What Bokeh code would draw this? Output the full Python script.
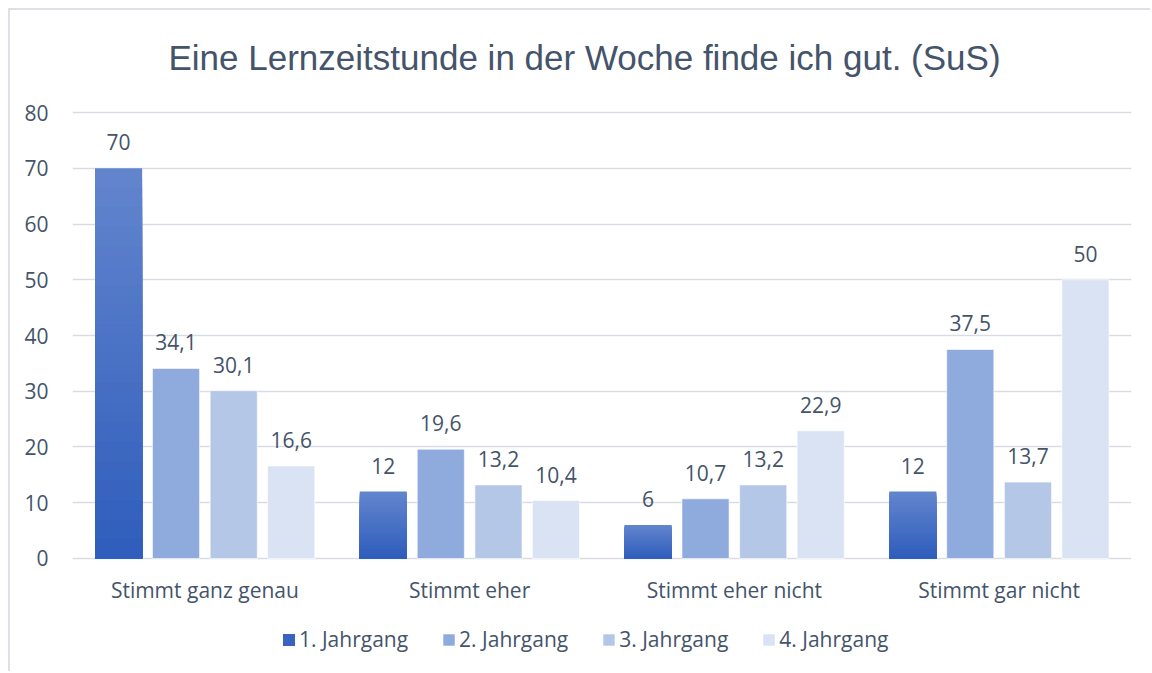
from bokeh.plotting import figure
from bokeh.models import ColumnDataSource, FactorRange, Legend, LegendItem, Label, FixedTicker, Range1d
from bokeh.transform import dodge
from bokeh.core.properties import value
from bokeh.embed import file_html
from bokeh.resources import INLINE

# ---- data ----
categories = ["Stimmt ganz genau", "Stimmt eher", "Stimmt eher nicht", "Stimmt gar nicht"]
series_names = ["1. Jahrgang", "2. Jahrgang", "3. Jahrgang", "4. Jahrgang"]
jahrgang_1 = [70, 12, 6, 12]
jahrgang_2 = [34.1, 19.6, 10.7, 37.5]
jahrgang_3 = [30.1, 13.2, 13.2, 13.7]
jahrgang_4 = [16.6, 10.4, 22.9, 50]
y_ticks = [0, 10, 20, 30, 40, 50, 60, 70, 80]
title_text = "Eine Lernzeitstunde in der Woche finde ich gut. (SuS)"

series_values = [jahrgang_1, jahrgang_2, jahrgang_3, jahrgang_4]
colors = ["#3a66c0", "#8faadc", "#b4c7e7", "#dae3f3"]
grad_bottom = (0x2e, 0x5d, 0xbc)
grad_top = (0x63, 0x85, 0xcd)
text_color = "#44546a"
grid_color = "#d9dde3"
font = "Open Sans"

offsets = [-0.326, -0.109, 0.109, 0.326]
bar_w = 0.178


def fmt(v):
    s = ("%.1f" % v).rstrip("0").rstrip(".")
    return s.replace(".", ",")


p = figure(width=1142, height=663, x_range=FactorRange(*categories, range_padding=0),
           y_range=Range1d(-20.63, 98.3), output_backend="svg", toolbar_location=None,
           min_border_left=62, min_border_right=21, min_border_top=0, min_border_bottom=0)
p.outline_line_color = None
p.styles = {"margin-left": "8px", "margin-top": "8px",
            "border-left": "2px solid #dde1e6", "border-top": "2px solid #dde1e6"}

# gradient bars for series 1: overlapping layers, light & tall first, darker & shorter on top
N = 40
g = dict(cat=[], top=[], color=[])
for c, v in zip(categories, jahrgang_1):
    for i in range(N):
        frac = (N - i) / N
        t = frac - 0.5 / N
        rgb = tuple(int(round(b + (tp - b) * t)) for b, tp in zip(grad_bottom, grad_top))
        g["cat"].append(c)
        g["top"].append(v * frac)
        g["color"].append("#%02x%02x%02x" % rgb)
gsrc = ColumnDataSource(g)
r1 = p.vbar(x=dodge("cat", offsets[0], range=p.x_range), bottom=0, top="top",
            width=bar_w, source=gsrc, fill_color="color", line_color=None)

renderers = [r1]
for k in range(1, 4):
    src = ColumnDataSource(dict(cat=categories, val=series_values[k]))
    r = p.vbar(x=dodge("cat", offsets[k], range=p.x_range), top="val", bottom=0,
               width=bar_w, source=src, fill_color=colors[k], line_color="#ffffff",
               line_alpha=0.6, line_width=1)
    renderers.append(r)

# data labels
for k in range(4):
    src = ColumnDataSource(dict(cat=categories, val=series_values[k],
                                lbl=[fmt(v) for v in series_values[k]]))
    p.text(x=dodge("cat", offsets[k], range=p.x_range), y="val", text="lbl", source=src,
           y_offset=-26, text_align="center", text_baseline="middle",
           text_font=value(font), text_font_size="21px", text_color=text_color)

# category labels (x axis)
csrc = ColumnDataSource(dict(cat=categories, y0=[0] * len(categories)))
p.text(x="cat", y="y0", text="cat", source=csrc, y_offset=32, text_align="center",
       text_baseline="middle", text_font=value(font), text_font_size="21px",
       text_color=text_color)

# title
p.add_layout(Label(x=1.934, y=89.9, text=title_text, text_align="center",
                   text_baseline="middle", text_font="Liberation Sans",
                   text_font_size="35px", text_color=text_color))

# axes
p.xaxis.visible = False
p.yaxis.ticker = FixedTicker(ticks=y_ticks)
p.yaxis.axis_line_color = None
p.yaxis.major_tick_line_color = None
p.yaxis.minor_tick_line_color = None
p.yaxis.major_tick_out = 0
p.yaxis.major_label_standoff = 24
p.yaxis.major_label_text_font = font
p.yaxis.major_label_text_font_size = "21px"
p.yaxis.major_label_text_color = text_color

p.xgrid.grid_line_color = None
p.ygrid.grid_line_color = grid_color
p.ygrid.grid_line_width = 1.5

items = [LegendItem(label=series_names[0], renderers=[r1], index=N - 8)]
for k in range(1, 4):
    items.append(LegendItem(label=series_names[k], renderers=[renderers[k]]))
legend = Legend(items=items, orientation="horizontal", location=(209, 20),
                glyph_width=15, glyph_height=15, label_standoff=3, spacing=33,
                label_text_font=font, label_text_font_size="21px",
                label_text_color=text_color, border_line_color=None,
                background_fill_alpha=0, padding=0, margin=0)
p.add_layout(legend, "center")

open("out.html", "w").write(file_html(p, INLINE))
